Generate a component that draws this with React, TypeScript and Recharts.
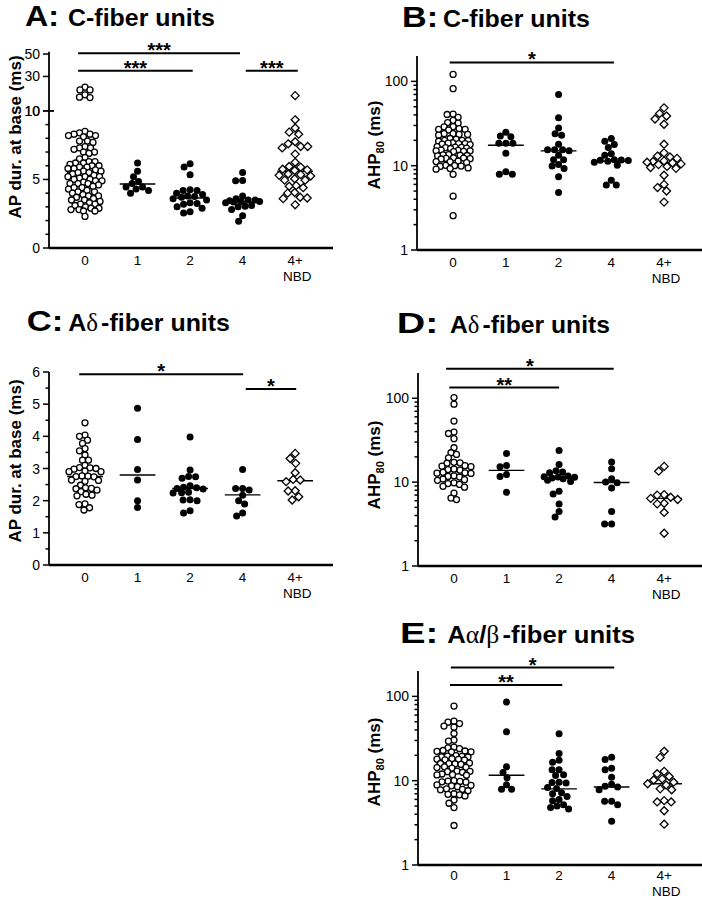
import React from 'react';
import { ScatterChart, Scatter, XAxis, YAxis, ReferenceLine } from 'recharts';

const FONT = "'Liberation Sans', Arial, Helvetica, sans-serif";
const GREEK = "'Liberation Serif', 'DejaVu Serif', serif";

// categories on the x axis (group index 0..4)
const groupTicks = [0, 1, 2, 3, 4];
const groupLabels = ['0', '1', '2', '4', '4+'];
const groupSubLabels = ['', '', '', '', 'NBD'];

// ---- A: C-fiber units, AP duration at base (ms) ----
const aG0 = [20.4, 18, 18, 13.6, 11.5, 11.2, 8.5, 8.4, 8.3, 8.3, 8.2, 8.2, 8.1, 7.8, 7.7, 7.8, 7.3, 7.3, 7.2, 7.4, 7.0, 6.9, 7.0, 6.5, 6.6, 6.3, 6.2, 6.2, 6.1, 6.3, 6.0, 6.0, 5.9, 5.8, 5.9, 5.8, 5.7, 5.6, 5.5, 5.5, 5.4, 5.6, 5.3, 5.2, 5.2, 5.1, 5.2, 5.0, 4.9, 5.0, 4.9, 4.8, 4.7, 4.7, 4.6, 4.7, 4.4, 4.4, 4.3, 4.5, 4.1, 4.1, 4.0, 4.2, 3.8, 3.9, 3.8, 3.7, 3.5, 3.5, 3.4, 3.6, 3.2, 3.2, 3.1, 3.3, 2.9, 2.9, 2.8, 3.0, 2.7, 2.7, 2.8, 2.3];
const aG1 = [6.2, 5.6, 5.2, 4.85, 4.7, 4.45, 4.45, 4.3, 4.2, 4.0];
const aG2 = [6.15, 5.9, 5.35, 4.25, 4.2, 4.2, 4.0, 3.9, 3.8, 3.75, 3.7, 3.6, 3.5, 3.3, 3.25, 3.2, 3.0, 2.9, 2.65, 2.55];
const aG4 = [5.5, 4.92, 4.9, 3.8, 3.6, 3.5, 3.5, 3.45, 3.4, 3.4, 3.35, 3.3, 3.1, 3.05, 3.0, 2.8, 2.35, 1.95];
const aNbd = [12.9, 9.35, 8.75, 8.45, 8.3, 7.75, 7.6, 7.4, 7.4, 7.3, 6.85, 6.25, 5.95, 5.9, 5.75, 5.7, 5.65, 5.4, 5.35, 5.3, 5.25, 5.05, 4.95, 4.95, 4.55, 4.5, 4.4, 4.05, 4.0, 3.65, 3.7, 3.6, 3.15];
const aMedians = [5.5, 4.67, 3.65, 3.36, 5.6];
const aSig = [
  { from: -0.13, to: 2.95, y: 50.6, mark: '***' },
  { from: -0.13, to: 2.05, y: 35, mark: '***' },
  { from: 3.06, to: 4.05, y: 35, mark: '***' },
];
const aLowerTicks = [0, 1, 2, 3, 4, 5, 6, 7, 8, 9, 10];
const aLowerLabels = ['0', '', '', '', '', '5', '', '', '', '', '10'];
const aUpperTicks = [10, 30, 50];
const aUpperLabels = ['10', '30', '50'];

// ---- B: C-fiber units, AHP80 (ms) ----
const bG0 = [121, 82, 7.9, 4.35, 2.55, 41, 40.5, 37.5, 34.5, 32, 32.5, 28.8, 29, 27, 27.5, 26.5, 27, 23.5, 24, 23, 23.5, 24, 20, 20.5, 19.8, 20, 21, 19.5, 18.3, 18.5, 18, 18.3, 18.7, 17.8, 16.4, 16.5, 16.2, 16.6, 16, 16.8, 15, 15.2, 14.8, 15, 15.3, 14.7, 13.3, 13.5, 13.1, 13.4, 13.2, 12.2, 12.4, 12, 12.3, 12.1, 11.1, 11.3, 10.9, 11.2, 9.9, 10.1, 9.8, 10, 9.25, 9.4, 9.1];
const bG1 = [25, 22.5, 22, 18.5, 18.5, 18.5, 14, 8.5, 7.9, 7.9];
const bG2 = [70, 37, 28, 24, 23, 18, 15.5, 15.5, 15.5, 15, 13.3, 11.8, 11.8, 10.3, 9.9, 9.25, 7.4, 4.8];
const bG4 = [21, 19.5, 17.8, 16.4, 13.9, 13.3, 11.8, 11.7, 11.6, 11.5, 11.3, 11.0, 10.1, 6.7, 5.9, 5.9];
const bNbd = [48.5, 41.5, 38.8, 35.8, 31, 18, 14.2, 13, 12.7, 12.2, 11.4, 11.2, 11, 10.8, 10.5, 10.3, 9.8, 9.5, 9.3, 7.7, 6.0, 5.5, 5.0, 3.7];
const bMedians = [16, 17.5, 15, 11.3, 10.8];
const bSig = [{ from: -0.065, to: 3.05, y: 168, mark: '*' }];

// ---- C: A-delta units, AP duration at base (ms) ----
const cG0 = [4.42, 4.0, 4.04, 3.78, 3.88, 3.62, 3.55, 3.42, 3.26, 3.26, 3.1, 3.03, 3.0, 3.02, 2.98, 2.9, 2.9, 2.92, 2.76, 2.75, 2.74, 2.77, 2.64, 2.63, 2.6, 2.48, 2.38, 2.4, 2.37, 2.33, 2.28, 2.17, 2.15, 2.2, 1.9, 1.88, 1.71, 1.78];
const cG1 = [4.87, 3.9, 2.97, 2.64, 2.0, 1.79];
const cG2 = [3.98, 2.95, 2.75, 2.7, 2.74, 2.46, 2.4, 2.42, 2.38, 2.36, 2.25, 2.24, 2.26, 2.02, 2.0, 2.03, 1.62, 1.69];
const cG4 = [2.97, 2.38, 2.38, 2.33, 2.17, 2.0, 1.9, 1.62, 1.52];
const cNbd = [3.47, 3.31, 3.16, 2.87, 2.66, 2.64, 2.59, 2.31, 2.3, 2.12, 2.02];
const cMedians = [2.75, 2.8, 2.38, 2.18, 2.62];
const cSig = [
  { from: -0.11, to: 3.01, y: 5.93, mark: '*' },
  { from: 3.06, to: 4.02, y: 5.47, mark: '*' },
];
const cTicks = [0, 0.5, 1, 1.5, 2, 2.5, 3, 3.5, 4, 4.5, 5, 5.5, 6];
const cLabels = ['0', '', '1', '', '2', '', '3', '', '4', '', '5', '', '6'];

// ---- D: A-delta units, AHP80 (ms) ----
const dG0 = [102, 85, 53.5, 39.5, 38, 33, 25.7, 22.4, 21.4, 19.5, 17, 17.2, 16.8, 15.5, 15.7, 15.3, 14.1, 14.3, 13.9, 12.9, 13.1, 12.7, 12.8, 11.7, 11.9, 11.5, 10.7, 10.9, 10.5, 9.6, 9.8, 9.4, 8.7, 8.9, 7.4, 6.2, 6.45];
const dG1 = [22, 15.8, 15.2, 12.3, 11.7, 7.55];
const dG2 = [23.8, 16.2, 13.7, 13.2, 12.9, 11.8, 11.6, 11.5, 11.4, 11.2, 11.0, 10.5, 10.2, 7.8, 7.2, 5.5, 4.45, 3.85];
const dG4 = [17.4, 14.4, 11, 10.06, 9.8, 8.5, 4.47, 3.16, 3.16];
const dNbd = [15.4, 13.5, 7.1, 7.0, 6.6, 6.4, 6.2, 5.6, 5.5, 4.35, 2.46];
const dMedians = [13.4, 13.8, 11.4, 9.9, 6.4];
const dSig = [
  { from: -0.15, to: 3.04, y: 225, mark: '*' },
  { from: -0.09, to: 2.0, y: 134, mark: '**' },
];

// ---- E: A-alpha/beta units, AHP80 (ms) ----
const eG0 = [76.7, 50.8, 49.5, 47.6, 44.4, 43.1, 36.3, 30.3, 29.4, 24.5, 24, 25, 22.3, 22.8, 21.9, 22.5, 22, 19.4, 19.8, 19.1, 19.6, 19.2, 17.9, 18.2, 17.6, 18, 17.7, 15.9, 16.2, 15.6, 16, 15.8, 14.3, 14.6, 14.1, 14.4, 12.8, 13, 12.6, 12.9, 11.8, 12, 11.6, 11.7, 9.8, 10, 9.6, 9.9, 9.7, 8.7, 8.9, 8.5, 8.8, 7.8, 8, 7.6, 7.9, 6.8, 7, 6.6, 6.9, 5.4, 4.8, 5.9, 2.94];
const eG1 = [85.5, 38, 14.6, 12.5, 10.8, 8.95, 7.9, 7.9];
const eG2 = [36, 21, 17.5, 16.5, 13.5, 13.5, 11.8, 11.5, 9.6, 9.5, 9.4, 8.3, 8.1, 7.2, 7.0, 6.5, 6.0, 5.8, 5.2, 5.0, 4.8, 4.6];
const eG4 = [19, 17.8, 14, 13.5, 11, 9.1, 8.6, 8.4, 7.8, 5.7, 5.7, 5.2, 3.3];
const eNbd = [22.3, 18.9, 12.9, 12.1, 11.2, 10.5, 10.2, 9.6, 9.2, 8.9, 8.0, 7.8, 5.8, 5.6, 5.6, 4.4, 3.05];
const eMedians = [15.8, 11.6, 8.0, 8.4, 9.2];
const eSig = [
  { from: -0.06, to: 3.05, y: 220, mark: '*' },
  { from: -0.076, to: 2.06, y: 136, mark: '**' },
];

// log axis ticks shared by B, D, E
const logTicks = [1, 2, 3, 4, 5, 6, 7, 8, 9, 10, 20, 30, 40, 50, 60, 70, 80, 90, 100];
const logLabels: Record<number, string> = { 1: '1', 10: '10', 100: '100' };

const X_DOMAIN: [number, number] = [-0.685, 4.72];

type Sig = { from: number; to: number; y: number; mark: string };
type TickSpec = { v: number; label: string; cross?: boolean };

// broken axis of panel A: 0-10 linear, then compressed 10-50 above a gap
const breakBase = 10.876;
const upperScale = 0.0818;
const aDisplay = (v: number) => (v <= 10 ? v : breakBase + (v - 10) * upperScale);

const OpenCircle = (p: any) => (
  <circle cx={p.cx} cy={p.cy} r={3} fill="#fff" stroke="#000" strokeWidth={1.3} />
);
const Dot = (p: any) => <circle cx={p.cx} cy={p.cy} r={3.5} fill="#000" />;
const OpenDiamond = (p: any) => (
  <path
    d={`M${p.cx},${p.cy - 4} L${p.cx + 4},${p.cy} L${p.cx},${p.cy + 4} L${p.cx - 4},${p.cy} Z`}
    fill="#fff"
    stroke="#000"
    strokeWidth={1.3}
  />
);
const SHAPES = [OpenCircle, Dot, Dot, Dot, OpenDiamond];
const DIAS = [5.6, 6.6, 6.6, 6.6, 7];
const MAX_SPREAD = 17;

// simple beeswarm: spread points sideways, overlapping a little when a row is full
function swarm(vals: number[], gi: number, toPx: (v: number) => number, xPerPx: number, dia: number) {
  const order = vals.map((v) => ({ v, py: toPx(v) })).sort((a, b) => b.py - a.py);
  const placed: { ox: number; py: number }[] = [];
  const out: { x: number; v: number }[] = [];
  for (const pt of order) {
    let best = 0;
    let bestScore = -1;
    for (let k = 0; ; k++) {
      const c = (k % 2 ? -1 : 1) * Math.ceil(k / 2) * 0.5;
      if (Math.abs(c) > MAX_SPREAD) break;
      let minD = Infinity;
      for (const q of placed) {
        const d = (q.ox - c) ** 2 + (q.py - pt.py) ** 2;
        if (d < minD) minD = d;
      }
      if (minD >= dia * dia) {
        best = c;
        break;
      }
      if (minD > bestScore) {
        bestScore = minD;
        best = c;
      }
    }
    placed.push({ ox: best, py: pt.py });
    out.push({ x: gi + best * xPerPx, v: pt.v });
  }
  return out;
}

const StarMark = (props: any) => {
  const vb = props.viewBox;
  if (!vb) return null;
  return (
    <text
      x={vb.x + vb.width / 2}
      y={vb.y + 4}
      textAnchor="middle"
      fontSize={20}
      fontWeight="bold"
      fontFamily={FONT}
      fill="#000"
    >
      {props.mark}
    </text>
  );
};

type PanelProps = {
  left: number;
  plotTop: number;
  yAxisWidth: number;
  plotW: number;
  plotH: number;
  rightPad: number;
  groups: number[][];
  medians: number[];
  sig: Sig[];
  log?: boolean;
  yDomain: [number, number];
  toDisplay?: (v: number) => number;
  ticks: TickSpec[];
  broken?: boolean;
  labelShift?: number;
};

const MT = 24;
const XH = 36;

function DotPanel(p: PanelProps) {
  const disp = p.toDisplay ?? ((v: number) => v);
  const xPerPx = (X_DOMAIN[1] - X_DOMAIN[0]) / p.plotW;
  const [lo, hi] = p.yDomain;
  const toPx = (v: number) =>
    p.log
      ? (p.plotH * (Math.log10(v) - Math.log10(lo))) / (Math.log10(hi) - Math.log10(lo))
      : (p.plotH * (disp(v) - lo)) / (hi - lo);
  const series = p.groups.map((vals, gi) =>
    swarm(vals, gi, toPx, xPerPx, DIAS[gi]).map((pt) => ({ x: pt.x, y: disp(pt.v) }))
  );
  const axisX = p.yAxisWidth;
  const axisY = MT + p.plotH;
  const shift = p.labelShift ?? 0;

  const YTick = (tp: any) => {
    const v = tp.payload?.value;
    const s = p.ticks.find((t) => Math.abs(t.v - v) < 1e-6);
    if (!s) return null;
    const len = s.label ? 6 : 3.5;
    return (
      <g>
        <line x1={axisX - len} x2={axisX + (s.cross ? 5 : 0)} y1={tp.y} y2={tp.y} stroke="#000" strokeWidth={1.5} />
        {s.label && (
          <text x={axisX - 9} y={tp.y} dy="0.36em" textAnchor="end" fontSize={14} fontFamily={FONT} fill="#000">
            {s.label}
          </text>
        )}
      </g>
    );
  };

  const XTick = (tp: any) => {
    const i = tp.payload?.value as number;
    return (
      <g>
        <text x={tp.x} y={axisY + 17 + shift} textAnchor="middle" fontSize={13.5} fontFamily={FONT} fill="#000">
          {groupLabels[i]}
        </text>
        {groupSubLabels[i] && (
          <text x={tp.x + 2} y={axisY + 33 + shift} textAnchor="middle" fontSize={13.5} fontFamily={FONT} fill="#000">
            {groupSubLabels[i]}
          </text>
        )}
      </g>
    );
  };

  return (
    <div style={{ position: 'absolute', left: p.left, top: p.plotTop - MT }}>
      <ScatterChart
        width={p.yAxisWidth + p.plotW + p.rightPad}
        height={MT + p.plotH + XH}
        margin={{ top: MT, right: p.rightPad, bottom: 0, left: 0 }}
      >
        <XAxis
          type="number"
          dataKey="x"
          domain={X_DOMAIN}
          allowDataOverflow
          ticks={groupTicks}
          interval={0}
          tick={XTick}
          tickLine={false}
          axisLine={{ stroke: '#000', strokeWidth: 2.5 }}
          height={XH}
        />
        <YAxis
          type="number"
          dataKey="y"
          scale={p.log ? 'log' : 'linear'}
          domain={p.yDomain}
          allowDataOverflow
          ticks={p.ticks.map((t) => t.v)}
          interval={0}
          tick={YTick}
          tickLine={false}
          axisLine={p.broken ? false : { stroke: '#000', strokeWidth: 1.8 }}
          width={p.yAxisWidth}
        />
        {series.map((pts, gi) => (
          <Scatter key={gi} data={pts} shape={SHAPES[gi]} isAnimationActive={false} />
        ))}
        {p.medians.map((m, gi) => (
          <ReferenceLine
            key={'m' + gi}
            segment={[
              { x: gi - 0.34, y: disp(m) },
              { x: gi + 0.34, y: disp(m) },
            ]}
            stroke="#000"
            strokeWidth={1.4}
            ifOverflow="visible"
          />
        ))}
        {p.sig.map((s, i) => (
          <ReferenceLine
            key={'s' + i}
            segment={[
              { x: s.from, y: disp(s.y) },
              { x: s.to, y: disp(s.y) },
            ]}
            stroke="#000"
            strokeWidth={2}
            ifOverflow="visible"
            label={<StarMark mark={s.mark} />}
          />
        ))}
        {p.broken && (
          <ReferenceLine
            segment={[
              { x: X_DOMAIN[0], y: 0 },
              { x: X_DOMAIN[0], y: 10 },
            ]}
            stroke="#000"
            strokeWidth={1.8}
            ifOverflow="visible"
          />
        )}
        {p.broken && (
          <ReferenceLine
            segment={[
              { x: X_DOMAIN[0], y: aDisplay(10) },
              { x: X_DOMAIN[0], y: aDisplay(52) },
            ]}
            stroke="#000"
            strokeWidth={1.8}
            ifOverflow="visible"
          />
        )}
      </ScatterChart>
    </div>
  );
}

const aTicks: TickSpec[] = [
  ...aLowerTicks.map((v, i) => ({ v, label: aLowerLabels[i], cross: v === 10 })),
  ...aUpperTicks.map((v, i) => ({ v: aDisplay(v), label: aUpperLabels[i], cross: v === 10 })),
];
const logSpecs: TickSpec[] = logTicks.map((v) => ({ v, label: logLabels[v] ?? '' }));
const cSpecs: TickSpec[] = cTicks.map((v, i) => ({ v, label: cLabels[i] }));

const Title = (t: { x: number; y: number; letter: string; letterLen: number; tx: number; textLen: number; children: React.ReactNode }) => (
  <g fontFamily={FONT} fontWeight="bold" fill="#000">
    <text x={t.x} y={t.y} fontSize={29} textLength={t.letterLen} lengthAdjust="spacingAndGlyphs">
      {t.letter}
    </text>
    <text x={t.tx} y={t.y} fontSize={24.5} textLength={t.textLen} lengthAdjust="spacingAndGlyphs">
      {t.children}
    </text>
  </g>
);

const greek = { fontFamily: GREEK, fontWeight: 'normal' as const };

const AhpLabel = ({ x, y }: { x: number; y: number }) => (
  <text transform={`translate(${x},${y}) rotate(-90)`} textAnchor="middle" fontSize={17} fontWeight="bold" fontFamily={FONT} fill="#000">
    AHP
    <tspan fontSize={11} dy={4}>80</tspan>
    <tspan dy={-4}> (ms)</tspan>
  </text>
);

const DurLabel = ({ x, y }: { x: number; y: number }) => (
  <text transform={`translate(${x},${y}) rotate(-90)`} textAnchor="middle" fontSize={17} fontWeight="bold" fontFamily={FONT} fill="#000">
    AP dur. at base (ms)
  </text>
);

export default function App() {
  return (
    <div style={{ position: 'absolute', left: 0, top: 0, width: 702, height: 900, overflow: 'hidden', background: '#fff' }}>
      <DotPanel
        left={0} plotTop={54} yAxisWidth={49} plotW={284} plotH={194} rightPad={17}
        groups={[aG0, aG1, aG2, aG4, aNbd]} medians={aMedians} sig={aSig}
        yDomain={[0, 14.15]} toDisplay={aDisplay} ticks={aTicks} broken
      />
      <DotPanel
        left={350} plotTop={56} yAxisWidth={67} plotW={285} plotH={194} rightPad={0}
        groups={[bG0, bG1, bG2, bG4, bNbd]} medians={bMedians} sig={bSig}
        log yDomain={[1, 200]} ticks={logSpecs}
      />
      <DotPanel
        left={0} plotTop={372} yAxisWidth={49} plotW={284} plotH={193} rightPad={17}
        groups={[cG0, cG1, cG2, cG4, cNbd]} medians={cMedians} sig={cSig}
        yDomain={[0, 6]} ticks={cSpecs}
      />
      <DotPanel
        left={350} plotTop={373} yAxisWidth={68} plotW={284} plotH={193} rightPad={0}
        groups={[dG0, dG1, dG2, dG4, dNbd]} medians={dMedians} sig={dSig}
        log yDomain={[1, 200]} ticks={logSpecs}
      />
      <DotPanel
        left={350} plotTop={671} yAxisWidth={68} plotW={284} plotH={194} rightPad={0}
        groups={[eG0, eG1, eG2, eG4, eNbd]} medians={eMedians} sig={eSig}
        log yDomain={[1, 200]} ticks={logSpecs} labelShift={-2}
      />
      <svg width={702} height={900} style={{ position: 'absolute', left: 0, top: 0, pointerEvents: 'none' }}>
        <Title x={25} y={26} letter="A:" letterLen={34} tx={68} textLen={147}>C-fiber units</Title>
        <Title x={402} y={26.7} letter="B:" letterLen={36} tx={443} textLen={147}>C-fiber units</Title>
        <Title x={26.7} y={330.7} letter="C:" letterLen={36.6} tx={68.3} textLen={161.7}>
          A<tspan {...greek}>δ</tspan>
          <tspan dx={3}>-fiber units</tspan>
        </Title>
        <Title x={396.7} y={333.3} letter="D:" letterLen={41.6} tx={450} textLen={160}>
          A<tspan {...greek}>δ</tspan>
          <tspan dx={3}>-fiber units</tspan>
        </Title>
        <Title x={400} y={643.3} letter="E:" letterLen={38.3} tx={447.3} textLen={187.7}>
          A<tspan {...greek}>α</tspan>/<tspan {...greek}>β</tspan>
          <tspan dx={3}>-fiber units</tspan>
        </Title>
        <DurLabel x={20.5} y={137} />
        <DurLabel x={20.5} y={461} />
        <AhpLabel x={379.5} y={145} />
        <AhpLabel x={379.5} y={465} />
        <AhpLabel x={379.5} y={762} />
      </svg>
    </div>
  );
}
